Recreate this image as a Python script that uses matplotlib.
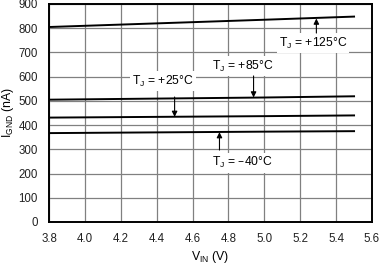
import matplotlib
matplotlib.use('Agg')
import matplotlib.pyplot as plt

plt.rcParams['font.family'] = ['Liberation Sans', 'DejaVu Sans']
plt.rcParams['mathtext.default'] = 'regular'

# input voltage (V) and ground current (nA) per junction temperature
vin = [3.8, 4.2, 4.6, 5.0, 5.5]
ignd_125 = [805, 815, 825, 835, 848]
ignd_85 = [505, 508, 511, 514, 519]
ignd_25 = [431, 433, 435, 437, 440]
ignd_m40 = [367, 369, 371, 373, 375]

xticks = [3.8, 4.0, 4.2, 4.4, 4.6, 4.8, 5.0, 5.2, 5.4, 5.6]
yticks = list(range(0, 1000, 100))

fig = plt.figure(figsize=(3.8, 2.65), dpi=100)
ax = fig.add_axes([49/380, 1 - 222/265, 323/380, 218/265])

for series in (ignd_125, ignd_85, ignd_25, ignd_m40):
    ax.plot(vin, series, color='black', lw=1.4, zorder=3)

ax.set_xlim(3.8, 5.6)
ax.set_ylim(0, 900)
ax.set_xticks(xticks)
ax.set_xticklabels(['%.1f' % t for t in xticks])
ax.set_yticks(yticks)
ax.grid(True, color='#808080', lw=0.9)
ax.set_axisbelow(True)
ax.tick_params(length=0, pad=8, labelsize=8.3, colors='#222222')
for sp in ax.spines.values():
    sp.set_linewidth(1.4)

ax.set_xlabel(r'V$_{IN}$ (V)', fontsize=8.8, labelpad=3)
ax.set_ylabel(r'I$_{GND}$ (nA)', fontsize=8.8, labelpad=1.5)

fs = 8.7
box = dict(facecolor='white', edgecolor='none', pad=1.5)
arrow = dict(arrowstyle='-|>', color='black', lw=0.8, mutation_scale=8, shrinkA=0, shrinkB=0)

ax.text(5.27, 739, r'T$_J$ = +125°C', fontsize=fs, ha='center', va='center', bbox=box, zorder=4)
ax.annotate('', xy=(5.29, 840), xytext=(5.29, 780), arrowprops=arrow, zorder=4)

ax.text(4.88, 644, r'T$_J$ = +85°C', fontsize=fs, ha='center', va='center', bbox=box, zorder=4)
ax.annotate('', xy=(4.94, 514), xytext=(4.94, 603), arrowprops=arrow, zorder=4)

ax.text(4.435, 582, r'T$_J$ = +25°C', fontsize=fs, ha='center', va='center', bbox=box, zorder=4)
ax.annotate('', xy=(4.50, 434), xytext=(4.50, 516), arrowprops=arrow, zorder=4)

ax.text(4.875, 244, r'T$_J$ = –40°C', fontsize=fs, ha='center', va='center', bbox=box, zorder=4)
ax.annotate('', xy=(4.75, 371), xytext=(4.75, 297), arrowprops=arrow, zorder=4)

fig.savefig('out.png', dpi=100)
